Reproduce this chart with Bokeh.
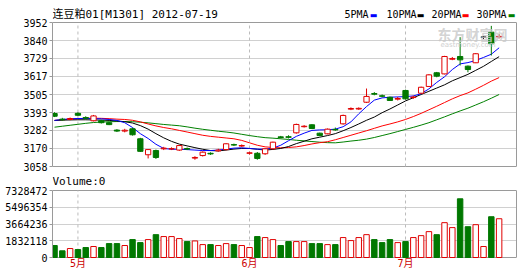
from bokeh.plotting import figure
from bokeh.layouts import column
from bokeh.models import (FixedTicker, Label, ColumnDataSource, BasicTickFormatter,
                          LinearAxis, Grid)
from bokeh.core.properties import value
from bokeh.embed import file_html
from bokeh.resources import INLINE

# ---------------- data ----------------
title_text = "连豆粕01[M1301] 2012-07-19"
idx = list(range(58))
opens = [3387, 3352, 3350, 3388, 3362, 3342, 3342, 3330, 3284, 3278,
         3292, 3230, 3131, 3157, 3168, 3167, 3160, 3169, 3110, 3126,
         3140, 3155, 3163, 3194, 3185, 3140, 3140, 3137, 3168, 3242,
         3243, 3267, 3305, 3317, 3265, 3261, 3288, 3323, 3414, 3415,
         3457, 3511, 3497, 3488, 3476, 3530, 3486, 3513, 3555, 3640,
         3633, 3724, 3741, 3681, 3702, 3861, 3892, 3862]
closes = [3370, 3348, 3356, 3376, 3358, 3372, 3330, 3318, 3278, 3283,
          3255, 3152, 3163, 3114, 3172, 3169, 3188, 3166, 3114, 3147,
          3136, 3160, 3199, 3191, 3188, 3143, 3108, 3168, 3209, 3238,
          3239, 3319, 3308, 3294, 3250, 3290, 3285, 3375, 3418, 3419,
          3493, 3507, 3494, 3468, 3480, 3478, 3489, 3550, 3627, 3619,
          3741, 3728, 3720, 3660, 3758, 3861, 3820, 3866]
highs = [3395, 3360, 3362, 3395, 3370, 3378, 3348, 3335, 3290, 3292,
         3298, 3236, 3166, 3163, 3180, 3177, 3192, 3176, 3122, 3152,
         3146, 3168, 3203, 3200, 3195, 3150, 3148, 3172, 3212, 3248,
         3252, 3324, 3315, 3320, 3268, 3294, 3300, 3380, 3425, 3425,
         3542, 3520, 3505, 3492, 3490, 3535, 3498, 3554, 3632, 3645,
         3745, 3738, 3861, 3685, 3762, 3866, 3931, 3880]
lows = [3365, 3342, 3345, 3372, 3350, 3338, 3325, 3315, 3272, 3270,
        3250, 3148, 3108, 3105, 3160, 3160, 3155, 3160, 3100, 3120,
        3130, 3150, 3158, 3185, 3180, 3132, 3100, 3130, 3165, 3232,
        3232, 3262, 3300, 3290, 3246, 3258, 3280, 3318, 3408, 3410,
        3452, 3500, 3488, 3465, 3468, 3474, 3478, 3510, 3552, 3612,
        3630, 3718, 3685, 3643, 3700, 3850, 3747, 3853]
ma5 = [3344, 3350, 3354, 3356, 3356, 3355, 3354, 3350, 3344, 3330,
       3300, 3262, 3232, 3196, 3170, 3165, 3165, 3163, 3160, 3157,
       3157, 3160, 3166, 3172, 3174, 3170, 3166, 3166, 3172, 3190,
       3218, 3245, 3265, 3282, 3285, 3286, 3290, 3305, 3335, 3385,
       3430, 3470, 3484, 3488, 3490, 3492, 3496, 3510, 3540, 3580,
       3615, 3660, 3695, 3703, 3716, 3735, 3755, 3795]
ma10 = [3344, 3346, 3347, 3348, 3348, 3347, 3346, 3344, 3341, 3336,
        3328, 3312, 3290, 3262, 3236, 3214, 3197, 3186, 3175, 3165,
        3157, 3155, 3160, 3166, 3170, 3170, 3165, 3160, 3164, 3170,
        3182, 3200, 3215, 3230, 3240, 3250, 3262, 3280, 3300, 3322,
        3345, 3365, 3392, 3415, 3440, 3465, 3485, 3505, 3525, 3545,
        3565, 3590, 3610, 3630, 3655, 3680, 3710, 3740]
ma20 = [3344, 3348, 3352, 3355, 3357, 3358, 3357, 3355, 3352, 3350,
        3345, 3335, 3322, 3310, 3300, 3292, 3282, 3272, 3262, 3252,
        3245, 3240, 3235, 3230, 3220, 3205, 3190, 3180, 3176, 3174,
        3176, 3180, 3188, 3198, 3206, 3212, 3224, 3238, 3252, 3266,
        3280, 3295, 3310, 3322, 3335, 3350, 3368, 3388, 3410, 3432,
        3455, 3478, 3498, 3515, 3538, 3562, 3588, 3610]
ma30 = [3302, 3308, 3314, 3320, 3326, 3331, 3334, 3336, 3337, 3337,
        3336, 3333, 3329, 3324, 3319, 3315, 3311, 3304, 3296, 3289,
        3283, 3277, 3272, 3266, 3258, 3250, 3243, 3237, 3234, 3230,
        3226, 3221, 3217, 3213, 3209, 3206, 3205, 3210, 3216, 3221,
        3228, 3238, 3250, 3262, 3275, 3288, 3301, 3315, 3330, 3348,
        3366, 3385, 3403, 3420, 3440, 3460, 3482, 3505]
volume = [1310000, 730000, 980000, 870000, 1090000, 1200000, 1090000, 1520000, 1520000, 1310000,
          1960000, 1630000, 1960000, 2500000, 2290000, 2290000, 2070000, 1740000, 1810000, 1410000,
          1410000, 1310000, 1520000, 1410000, 1310000, 1090000, 2290000, 2180000, 1960000, 1310000,
          1740000, 1740000, 1740000, 1520000, 1520000, 1410000, 1410000, 2180000, 1850000, 2180000,
          2500000, 1960000, 1630000, 1960000, 1630000, 1740000, 2180000, 2390000, 2830000, 2500000,
          3810000, 3270000, 6420000, 3370000, 3590000, 1200000, 4460000, 4240000]
price_ticks = [3058, 3170, 3282, 3393, 3505, 3617, 3729, 3840, 3952]
vol_ticks = [0, 1832118, 3664236, 5496354, 7328472]
month_ticks = [3, 25, 45]
month_labels = ["5月", "6月", "7月"]
legend_names = ["5PMA", "10PMA", "20PMA", "30PMA"]
legend_colors = ["#0000ff", "#000000", "#ff0000", "#008000"]

# ---------------- style / pixel helpers ----------------
RED = "#e00000"
GREEN = "#007800"
FRAME = "#9a9a9a"
GRIDC = "#d0d0d0"
MONO = "DejaVu Sans Mono, Noto Sans CJK SC"
W, H1, H2 = 530, 175, 94
FL, FR = 52, 516           # frame left/right pixels
XMIN, XSTEP = -0.26, 7.8    # data offset and px per bar
P_TOP, P_BOT = 22, 166      # price box pixels
V_TOP, V_BOT = 190, 257     # volume box pixels


def px2x(px):
    return XMIN + (px - FL) / XSTEP


def py2price(py):
    return price_ticks[-1] - (py - P_TOP) * (price_ticks[-1] - price_ticks[0]) / (P_BOT - P_TOP)


def py2vol(py):
    return vol_ticks[-1] - (py - V_TOP) * vol_ticks[-1] / (V_BOT - V_TOP)


colors = [RED if c > o else (GREEN if c < o else "#000000") for o, c in zip(opens, closes)]
fills = [GREEN if c < o else ("white" if c > o else "#000000") for o, c in zip(opens, closes)]
vcolors = [GREEN if c < o else RED for o, c in zip(opens, closes)]
vfills = [GREEN if c < o else "white" for o, c in zip(opens, closes)]

src = ColumnDataSource(dict(
    x=idx, high=highs, low=lows,
    top=[max(o, c) for o, c in zip(opens, closes)],
    bottom=[min(o, c) for o, c in zip(opens, closes)],
    color=colors, fill=fills, vol=volume, vcolor=vcolors, vfill=vfills))

xr_end = XMIN + (FR - FL) / XSTEP


def style_box(p, ticks, lo, hi, label_overrides=None):
    p.outline_line_color = None
    p.background_fill_color = "white"
    p.border_fill_color = "white"
    p.xgrid.visible = False
    ax = p.yaxis[0]
    ax.ticker = FixedTicker(ticks=ticks)
    ax.formatter = BasicTickFormatter(use_scientific=False)
    if label_overrides:
        ax.major_label_overrides = label_overrides
    ax.bounds = (lo, hi)
    ax.major_label_text_font = "DejaVu Sans Mono"
    ax.major_label_text_font_size = "10px"
    ax.major_label_text_color = "#000000"
    ax.major_tick_out = 3
    ax.major_tick_in = 0
    ax.minor_tick_line_color = None
    ax.axis_line_color = FRAME
    ax.major_tick_line_color = FRAME
    ax.major_label_standoff = 2
    p.ygrid.grid_line_color = GRIDC
    right = LinearAxis(ticker=FixedTicker(ticks=[]), bounds=(lo, hi), axis_line_color=FRAME,
                       major_tick_line_color=None, minor_tick_line_color=None,
                       major_label_text_font_size="0px")
    p.add_layout(right, "right")
    p.add_layout(Grid(dimension=1, ticker=FixedTicker(ticks=[lo, hi]), grid_line_color=FRAME))
    p.segment(x0=month_ticks, x1=month_ticks, y0=[lo] * len(month_ticks), y1=[hi] * len(month_ticks),
              line_color="#bbbbbb", line_dash="3 3", line_width=1)


# ---------------- price panel ----------------
p1 = figure(width=W, height=H1, x_range=(XMIN, xr_end), y_range=(py2price(H1), py2price(0)),
            output_backend="svg", toolbar_location=None, x_axis_location=None,
            min_border_left=FL, min_border_right=W - FR, min_border_top=0, min_border_bottom=0)
style_box(p1, price_ticks, price_ticks[0], price_ticks[-1])

# watermark
p1.add_layout(Label(x=px2x(437), y=py2price(33), text="东方财富网", text_font="Noto Sans CJK SC",
                    text_font_size="14px", text_font_style="bold", text_color="#c8c8c8",
                    text_align="left", text_baseline="middle", text_alpha=0.8))
p1.add_layout(Label(x=px2x(440), y=py2price(44), text="eastmoney.com", text_font="DejaVu Sans",
                    text_font_size="7px", text_color="#d0d0d0", text_align="left", text_baseline="middle"))

p1.line(idx, ma30, color=legend_colors[3], line_width=1)
p1.line(idx, ma20, color=legend_colors[2], line_width=1)
p1.line(idx, ma10, color=legend_colors[1], line_width=1)
p1.line(idx, ma5, color=legend_colors[0], line_width=1)
p1.segment(x0="x", y0="low", x1="x", y1="high", line_color="color", line_width=1, source=src)
p1.vbar(x="x", width=0.68, top="top", bottom="bottom", fill_color="fill", line_color="color",
        line_width=1, source=src)

# header texts
p1.add_layout(Label(x=px2x(52), y=py2price(14), text=title_text, text_font=MONO,
                    text_font_size="11px", text_color="#000000", text_align="left", text_baseline="middle"))
leg_text_px = [344, 386, 431, 476]
leg_dash_px = [373, 420, 465, 511]
for name, col, tx, dx in zip(legend_names, legend_colors, leg_text_px, leg_dash_px):
    p1.add_layout(Label(x=px2x(tx), y=py2price(14), text=name, text_font=MONO, text_font_size="10px",
                        text_color="#000000", text_align="left", text_baseline="middle"))
    p1.add_layout(Label(x=px2x(dx), y=py2price(15), text="▬", text_font="DejaVu Sans", text_font_size="8px",
                        text_color=col, text_align="center", text_baseline="middle"))

# ---------------- volume panel ----------------
p2 = figure(width=W, height=H2, x_range=p1.x_range, y_range=(py2vol(H1 + H2), py2vol(H1)),
            output_backend="svg", toolbar_location=None, x_axis_location=None,
            min_border_left=FL, min_border_right=W - FR, min_border_top=0, min_border_bottom=0)
style_box(p2, vol_ticks, vol_ticks[0], vol_ticks[-1], {v: str(v) for v in vol_ticks})

p2.vbar(x="x", width=0.7, top="vol", bottom=0, fill_color="vfill", line_color="vcolor",
        line_width=1, source=src)
p2.text(x=month_ticks, y=[py2vol(262.5)] * len(month_ticks), text=month_labels,
        text_font=value(MONO), text_font_size="10px", text_color="#cc0000",
        text_align="center", text_baseline="middle")
p2.add_layout(Label(x=px2x(52), y=py2vol(181), text="Volume:0", text_font=MONO, text_font_size="11px",
                    text_color="#000000", text_align="left", text_baseline="middle"))

layout = column(p1, p2, spacing=0)
open("out.html", "w").write(file_html(layout, INLINE))
